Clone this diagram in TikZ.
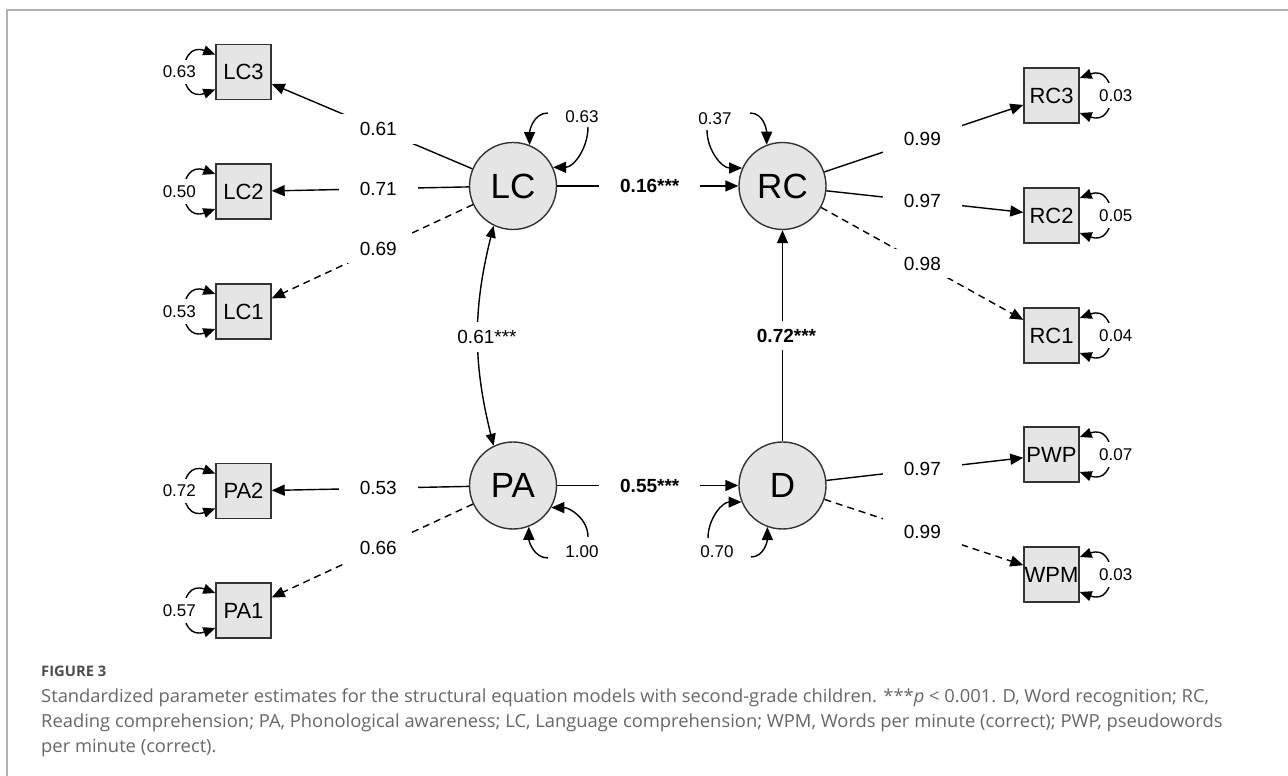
\documentclass[tikz,border=0pt]{standalone}
\usepackage{fontspec}
\setmainfont{Liberation Sans}
\newfontfamily\capfont[FakeStretch=1.02]{Open Sans}
\usetikzlibrary{arrows.meta,calc}
\begin{document}
\begin{tikzpicture}[x=1pt,y=1pt,
  lat/.style={circle,draw=black!80,fill=black!10,line width=1.4pt,minimum size=87pt,inner sep=0pt,font=\fontsize{35}{35}\selectfont},
  obs/.style={rectangle,draw=black!80,fill=black!10,line width=1.4pt,minimum size=55pt,inner sep=0pt,font=\fontsize{22}{22}\selectfont},
  arr/.style={line width=1.4pt,-{Triangle[length=13pt,width=11pt]}},
  darr/.style={line width=1.4pt,{Triangle[length=12pt,width=10pt]}-{Triangle[length=12pt,width=10pt]}},
  dsh/.style={dash pattern=on 7pt off 5pt},
  lbl/.style={fill=white,inner xsep=21pt,inner ysep=8pt,font=\fontsize{19}{19}\selectfont},
  blbl/.style={lbl,font=\fontsize{19}{19}\selectfont\bfseries},
  vlbl/.style={fill=white,inner xsep=1pt,inner ysep=6pt,font=\fontsize{17}{17}\selectfont},
  rlbl/.style={inner sep=1pt,font=\fontsize{17}{17}\selectfont},
  leftloop/.style={darr,out=160,in=200,looseness=3},
  rightloop/.style={darr,out=20,in=-20,looseness=3},
  capline/.style={anchor=base west,inner sep=0pt,text=black!60,font=\capfont\fontsize{18}{18}\selectfont},
]
\useasboundingbox (0,0) rectangle (1288,776);
\draw[black!30,line width=1.5pt] (7,0) -- (7,766) -- (1288,766);

% latent variables
\node[lat] (LC) at (513,590) {LC};
\node[lat] (RC) at (782.5,590) {RC};
\node[lat] (PA) at (513,290.5) {PA};
\node[lat] (D)  at (782.5,290.5) {D};

% observed indicators
\node[obs] (LC3) at (243.5,704) {LC3};
\node[obs] (LC2) at (243.5,584.5) {LC2};
\node[obs] (LC1) at (243.5,464.5) {LC1};
\node[obs] (PA2) at (243.5,285) {PA2};
\node[obs] (PA1) at (243.5,165.5) {PA1};
\node[obs] (RC3) at (1051.5,680.5) {RC3};
\node[obs] (RC2) at (1051.5,560.5) {RC2};
\node[obs] (RC1) at (1051.5,440.5) {RC1};
\node[obs] (PWP) at (1051.5,321.5) {PWP};
\node[obs] (WPM) at (1051.5,201.5) {WPM};

% loadings
\draw[arr] (LC) -- (LC3);
\draw[arr] (LC) -- (LC2);
\draw[arr,dsh] (LC) -- (LC1);
\draw[arr] (PA) -- (PA2);
\draw[arr,dsh] (PA) -- (PA1);
\draw[arr] (RC) -- (RC3);
\draw[arr] (RC) -- (RC2);
\draw[arr,dsh] (RC) -- (RC1);
\draw[arr] (D) -- (PWP);
\draw[arr,dsh] (D) -- (WPM);

% structural paths
\draw[arr] (LC) -- (RC);
\draw[arr] (PA) -- (D);
\draw[arr] (D) -- (RC);
\draw[darr] (LC.-116) to[bend right=14] (PA.116);

% residual variances of latents
\coordinate (lca) at (548,663);
\coordinate (lcb) at (588,649);
\draw[arr] (lca) to[out=180,in=90] (LC.68);
\draw[arr] (lcb) to[out=-90,in=0] (LC.25);
\node[rlbl] (vLC) at (582,659) {0.63};

\coordinate (rca) at (750,663);
\coordinate (rcb) at (707,646);
\draw[arr] (rca) to[out=0,in=90] (RC.111);
\draw[arr] (rcb) to[out=-90,in=180] (RC.156);
\node[rlbl] (vRC) at (715,657) {0.37};

\coordinate (paa) at (588,239);
\coordinate (pab) at (548,218);
\draw[arr] (paa) to[out=90,in=0] (PA.-30);
\draw[arr] (pab) to[out=180,in=-90] (PA.-69);
\node[rlbl] (vPA) at (582,224) {1.00};

\coordinate (da) at (708,238);
\coordinate (db) at (751,219);
\draw[arr] (da) to[out=90,in=180] (D.-158);
\draw[arr] (db) to[out=0,in=-90] (D.-110);
\node[rlbl] (vD) at (717,224) {0.70};

% residual variances of indicators
\foreach \b/\v in {LC3/0.63,LC2/0.50,LC1/0.53,PA2/0.72,PA1/0.57}{
  \draw[leftloop] ([yshift=17.5pt]\b.west) to ([yshift=-17.5pt]\b.west);
  \node[vlbl] (v\b) at ([xshift=-36pt]\b.west) {\v};
}
\foreach \b/\v in {RC3/0.03,RC2/0.05,RC1/0.04,PWP/0.07,WPM/0.03}{
  \draw[rightloop] ([yshift=17.5pt]\b.east) to ([yshift=-17.5pt]\b.east);
  \node[vlbl] (v\b) at ([xshift=36pt]\b.east) {\v};
}

% labels on paths
\node[lbl] (l1) at ($(LC)!0.5!(LC3)$) {0.61};
\node[lbl] (l2) at ($(LC)!0.5!(LC2)$) {0.71};
\node[lbl] (l3) at ($(LC)!0.5!(LC1)$) {0.69};
\node[lbl] (l4) at ($(PA)!0.5!(PA2)$) {0.53};
\node[lbl] (l5) at ($(PA)!0.5!(PA1)$) {0.66};
\node[lbl] (l6) at ($(RC)!0.52!(RC3)$) {0.99};
\node[lbl] (l7) at ($(RC)!0.52!(RC2)$) {0.97};
\node[lbl] (l8) at ($(RC)!0.52!(RC1)$) {0.98};
\node[lbl] (l9) at ($(D)!0.52!(PWP)$) {0.97};
\node[lbl] (l10) at ($(D)!0.52!(WPM)$) {0.99};
\node[blbl] (s1) at ($(LC)!0.5!(RC)+(2,0)$) {0.16***};
\node[blbl] (s2) at ($(PA)!0.5!(D)+(2,0)$) {0.55***};
\node[blbl] (s3) at ($(D)!0.5!(RC)+(4,0)$) {0.72***};
\node[lbl] (s4) at (487,439) {0.61***};

% caption
\node[anchor=base west,inner sep=0pt,text=black!70,font=\capfont\bfseries\fontsize{14.5}{14.5}\selectfont] (fig) at (41,99) {FIGURE 3};
\node[capline] (cap1) at (41,73) {Standardized parameter estimates for the structural equation models with second-grade children. ***\textit{p} {\textless} 0.001. D, Word recognition; RC,};
\node[capline] (cap2) at (41,48) {Reading comprehension; PA, Phonological awareness; LC, Language comprehension; WPM, Words per minute (correct); PWP, pseudowords};
\node[capline] (cap3) at (41,23) {per minute (correct).};
\end{tikzpicture}
\end{document}
